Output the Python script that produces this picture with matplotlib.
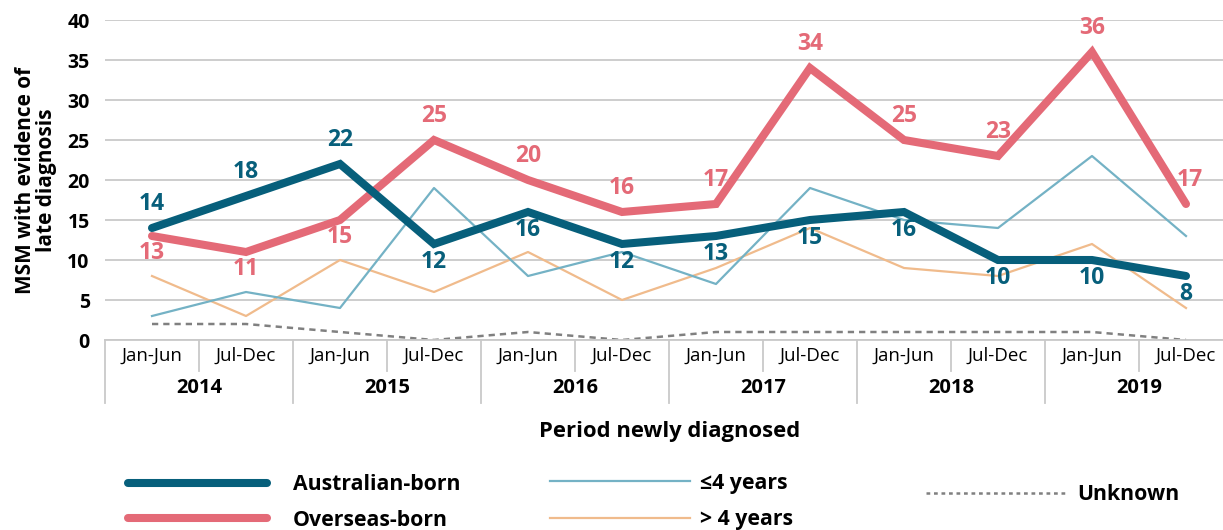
import matplotlib
matplotlib.use("Agg")
import matplotlib.pyplot as plt
from matplotlib.lines import Line2D
import matplotlib.transforms as mtransforms

plt.rcParams['font.family'] = ['Open Sans', 'DejaVu Sans']

periods = ["Jan-Jun", "Jul-Dec"] * 6
years = ["2014", "2015", "2016", "2017", "2018", "2019"]
australian = [14, 18, 22, 12, 16, 12, 13, 15, 16, 10, 10, 8]
overseas = [13, 11, 15, 25, 20, 16, 17, 34, 25, 23, 36, 17]
le4 = [3, 6, 4, 19, 8, 11, 7, 19, 15, 14, 23, 13]
gt4 = [8, 3, 10, 6, 11, 5, 9, 14, 9, 8, 12, 4]
unknown = [2, 2, 1, 0, 1, 0, 1, 1, 1, 1, 1, 0]

aus_pos = ["a", "a", "a", "b", "b", "b", "b", "b", "b", "b", "b", "b"]
ovs_pos = ["b", "b", "b", "a", "a", "a", "a", "a", "a", "a", "a", "a"]

C_AUS = "#075f7b"
C_OVS = "#e46a77"
C_LE4 = "#74b2c5"
C_GT4 = "#f0bb8c"
C_UNK = "#808080"

W, H = 1223, 530
fig = plt.figure(figsize=(W / 100, H / 100), dpi=100)
left_px, right_px, top_px, bot_px = 105, 105 + 12 * 94, 20, 340
ax = fig.add_axes([left_px / W, 1 - bot_px / H, (right_px - left_px) / W, (bot_px - top_px) / H])

x = list(range(len(periods)))
ax.plot(x, unknown, color=C_UNK, lw=1.8, ls=(0, (2.5, 2)), zorder=2)
ax.plot(x, gt4, color=C_GT4, lw=1.6, zorder=3)
ax.plot(x, le4, color=C_LE4, lw=1.6, zorder=3)
ax.plot(x, overseas, color=C_OVS, lw=5.8, solid_capstyle='round', solid_joinstyle='miter', zorder=4)
ax.plot(x, australian, color=C_AUS, lw=5.8, solid_capstyle='round', solid_joinstyle='miter', zorder=5)

for xi, v, p in zip(x, australian, aus_pos):
    dy = 24 if p == "a" else -18
    ax.annotate(str(v), (xi, v), xytext=(0, dy), textcoords='offset pixels',
                ha='center', va='center', fontsize=16.5, fontweight='bold', color=C_AUS, zorder=6)
for xi, v, p in zip(x, overseas, ovs_pos):
    dy = 24 if p == "a" else -17
    dx = 4 if xi == len(x) - 1 else 0
    ax.annotate(str(v), (xi, v), xytext=(dx, dy), textcoords='offset pixels',
                ha='center', va='center', fontsize=16.5, fontweight='bold', color=C_OVS, zorder=6)

ax.set_xlim(-0.5, 11.5)
ax.set_ylim(0, 40)
ax.set_yticks(range(0, 41, 5))
ax.yaxis.grid(True, color="#c9c9c9", lw=1.3)
ax.set_axisbelow(True)
for s in ["top", "right", "left"]:
    ax.spines[s].set_visible(False)
ax.spines["bottom"].set_color("#c9c9c9")
ax.spines["bottom"].set_linewidth(1.3)
ax.tick_params(axis='y', length=0, pad=11, labelsize=14)
for lab in ax.get_yticklabels():
    lab.set_fontweight('bold')
ax.set_xticks(x)
ax.set_xticklabels(periods, fontsize=13.5)
ax.tick_params(axis='x', length=0, pad=5)

trans = mtransforms.blended_transform_factory(ax.transData, ax.transAxes)
ph = bot_px - top_px
for k in range(13):
    xd = k - 0.5
    long = (k % 2 == 0)
    y1 = -63 / ph if long else -31 / ph
    ax.add_line(Line2D([xd, xd], [0, y1], transform=trans, color="#c9c9c9", lw=1.3, clip_on=False))
for i, yr in enumerate(years):
    ax.text(2 * i + 0.5, -48 / ph, yr, transform=trans, ha='center', va='center',
            fontsize=14.5, fontweight='bold')

fig.text(670 / W, 1 - 432 / H, "Period newly diagnosed", ha='center', va='center',
         fontsize=15.8, fontweight='bold')
fig.text(36 / W, 1 - 180 / H, "MSM with evidence of\nlate diagnosis", ha='center', va='center',
         rotation=90, fontsize=15, fontweight='bold', linespacing=1.0)

# legend
def leg(x0, x1, y, label, tx, **kw):
    fig.add_artist(Line2D([x0 / W, x1 / W], [1 - y / H, 1 - y / H], transform=fig.transFigure, **kw))
    fig.text(tx / W, 1 - (y + 2) / H, label, ha='left', va='center', fontsize=15.3, fontweight='bold')

leg(128, 267, 483, "Australian-born", 293, color=C_AUS, lw=5.8, solid_capstyle='round')
leg(128, 267, 518, "Overseas-born", 293, color=C_OVS, lw=5.8, solid_capstyle='round')
leg(550, 690, 481, "≤4 years", 700, color=C_LE4, lw=1.6)
leg(550, 690, 518, "> 4 years", 700, color=C_GT4, lw=1.6)
leg(926, 1068, 493, "Unknown", 1077, color=C_UNK, lw=1.8, ls=(0, (1.5, 1.5)))

fig.savefig("out.png", dpi=100)
